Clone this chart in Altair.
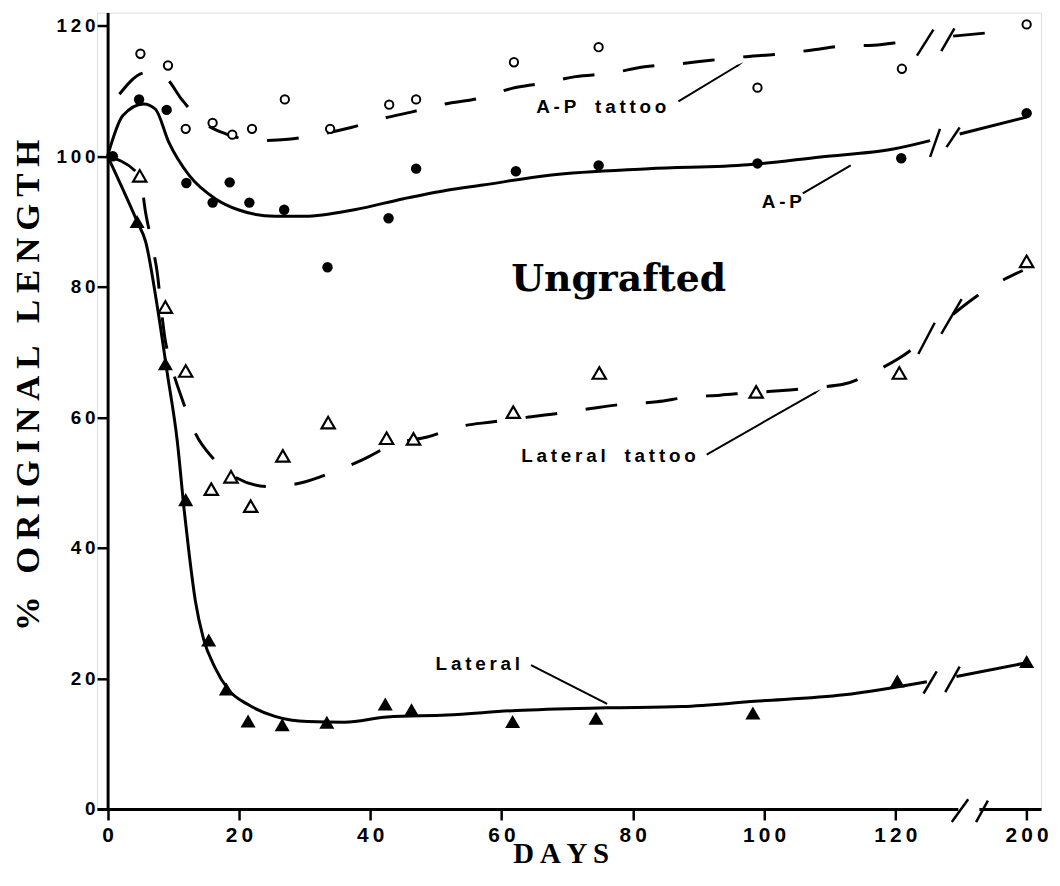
import altair as alt
import pandas as pd

# ---------------- data (days, % original length) ----------------
# markers
ap_days = [0.8, 4.8, 9.0, 12.0, 16.0, 18.6, 21.6, 26.9, 33.5, 42.8, 47.0, 62.2, 74.8, 99.0, 120.9, 200]
ap_vals = [100, 108.7, 107.1, 95.9, 92.9, 96.0, 92.9, 91.8, 83.0, 90.5, 98.1, 97.7, 98.6, 98.9, 99.7, 106.6]

apt_days = [5.0, 9.2, 11.9, 16.0, 19.0, 22.0, 27.0, 33.9, 42.9, 47.0, 61.9, 74.8, 99.0, 121.0, 200]
apt_vals = [115.7, 113.9, 104.2, 105.1, 103.3, 104.2, 108.7, 104.2, 107.9, 108.7, 114.4, 116.7, 110.5, 113.4, 120.2]

lat_days = [4.5, 8.8, 11.9, 15.4, 18.1, 21.4, 26.6, 33.4, 42.3, 46.3, 61.7, 74.4, 98.3, 120.3, 200]
lat_vals = [90.0, 68.2, 47.4, 25.9, 18.4, 13.5, 12.9, 13.3, 16.1, 15.2, 13.4, 13.9, 14.7, 19.6, 22.6]

latt_days = [4.9, 8.8, 11.9, 15.8, 18.8, 21.8, 26.7, 33.6, 42.5, 46.6, 61.8, 74.9, 98.8, 120.6, 200]
latt_vals = [97.0, 76.9, 67.1, 49.0, 50.9, 46.4, 54.1, 59.2, 56.8, 56.7, 60.8, 66.8, 63.9, 66.8, 83.9]

# hand-drawn curves, split at the axis break
ap_c1_days = [0, 0.5, 2.3, 5.5, 7.3, 9.3, 12.4, 16.4, 19.9, 25.5, 30, 37.6, 45.1, 51.7, 57.2, 67.3, 82.4, 97.6, 108.6, 119.7, 125.3]
ap_c1_vals = [100, 101.7, 106.2, 108.0, 107.2, 102.2, 97.1, 93.5, 91.8, 90.8, 90.8, 91.8, 93.5, 94.8, 95.6, 97.1, 98.1, 98.7, 99.9, 101.1, 102.4]
ap_c2_days = [189.8, 200]
ap_c2_vals = [103.4, 106.0]

apt_c1_days = [1.8, 5.8, 8.8, 11.3, 13.9, 18.1, 23.2, 27.5, 31.5, 37.1, 42.0, 46.4, 51.4, 56.7, 61.6, 66.3, 71.3, 76.4,
               81.8, 86.5, 91.9, 96.6, 101.6, 107.6, 112.2, 116.7, 121.0, 124.0]
apt_c1_vals = [109.5, 112.8, 112.0, 108.7, 105.7, 103.4, 102.4, 102.6, 103.2, 104.4, 105.8, 106.8, 108.0, 108.9, 110.4, 111.2,
               112.2, 112.7, 113.7, 114.1, 114.7, 115.2, 115.6, 116.3, 116.9, 117.0, 117.5, 117.9]
apt_c2_days = [188.8, 195.1]
apt_c2_vals = [118.4, 119.0]

lat_c1_days = [0, 4.5, 5.8, 7.6, 9.1, 10.6, 11.7, 12.4, 13.4, 14.6, 16.4, 18.4, 21.4, 25.5, 30.5, 36.1, 42.6, 51.7, 62.3,
               75.9, 87.5, 98.6, 112.2, 124.8]
lat_c1_vals = [100, 90.0, 86.9, 76.8, 66.7, 56.5, 45.5, 39.3, 31.7, 26.1, 21.6, 18.3, 16.0, 14.2, 13.4, 13.3, 14.1, 14.4, 15.1,
               15.5, 15.7, 16.5, 17.5, 19.5]
lat_c2_days = [189.3, 200]
lat_c2_vals = [20.3, 22.4]

latt_c1_days = [0, 4.9, 5.8, 6.8, 7.6, 8.1, 8.8, 9.3, 11.6, 13.4, 16.1, 18.4, 24.5, 29.2, 34.3, 38.8, 43.9, 48.7, 53.7, 58.5,
                63.8, 68.6, 73.9, 78.4, 83.7, 88.5, 93.3, 98.1, 102.8, 107.9, 112.2, 116.8, 120.5, 124.8]
latt_c1_vals = [100, 97.0, 91.3, 86.4, 81.9, 77.3, 71.7, 69.5, 62.1, 57.5, 53.7, 51.5, 49.4, 49.9, 51.6, 53.5, 56.0, 57.0, 58.6,
                59.3, 60.0, 60.6, 61.4, 62.0, 62.4, 63.1, 63.4, 63.8, 64.1, 64.6, 65.1, 67.0, 69.0, 72.2]
latt_c2_days = [188.8, 192.6, 195.1, 199.4]
latt_c2_vals = [75.8, 78.7, 80.3, 82.5]

x_ticks = [0, 20, 40, 60, 80, 100, 120, 200]
y_ticks = [0, 20, 40, 60, 80, 100, 120]

TS = "\u2009"   # thin space: letter spacing of the original lettering
WS = "\u2003"   # em space: word gap (plain spaces collapse in SVG)


def ax(d):
    """broken axis: days up to 130 drawn as-is, the 190-200 stretch drawn after the break"""
    return d if d <= 130 else d - 60


def spaced(s):
    return WS.join(TS.join(w) for w in s.split(" "))


# ---------------- tables ----------------
def pts(days, vals):
    return pd.DataFrame({"x": [ax(d) for d in days], "y": vals})


def curve(name, style, segs):
    rows = []
    for i, (ds, vs) in enumerate(segs):
        for d, v in zip(ds, vs):
            rows.append({"x": ax(d), "y": v, "key": f"{name}{i}", "style": style})
    return rows


line_rows = (curve("ap", "solid", [(ap_c1_days, ap_c1_vals), (ap_c2_days, ap_c2_vals)])
             + curve("lat", "solid", [(lat_c1_days, lat_c1_vals), (lat_c2_days, lat_c2_vals)])
             + curve("apt", "dash", [(apt_c1_days, apt_c1_vals), (apt_c2_days, apt_c2_vals)])
             + curve("latt", "dash", [(latt_c1_days, latt_c1_vals), (latt_c2_days, latt_c2_vals)]))
lines = pd.DataFrame(line_rows)

# "//" break marks on each curve and on the axis (days, value)
breaks = pd.DataFrame({
    "x":  [ax(183.3), ax(187.0), ax(185.3), ax(187.8), ax(183.5), ax(187.0), ax(184.3), ax(187.6), ax(188.6), ax(192.3)],
    "x2": [ax(185.8), ax(189.0), ax(186.8), ax(189.8), ax(186.0), ax(190.1), ax(186.3), ax(189.8), ax(191.1), ax(194.1)],
    "y":  [115.4, 116.1, 99.9, 101.4, 69.7, 72.8, 17.7, 17.9, -2.0, -2.0],
    "y2": [119.4, 119.6, 104.2, 104.4, 74.5, 78.1, 21.1, 21.8, 1.5, 1.3],
})
gap = pd.DataFrame({"x": [ax(189.6)], "x2": [ax(192.8)], "y": [-0.55], "y2": [0.55]})

# leader lines of the labels
leaders = pd.DataFrame({
    "x":  [86.96, 91.26, 105.9, 64.5],
    "y":  [108.4, 54.3, 94.3, 22.05],
    "x2": [96.0, 107.8, 113.2, 76.1],
    "y2": [113.9, 63.8, 98.6, 16.1],
})
heads = pd.DataFrame({"x": [96.2, 108.0], "y": [114.0, 63.9], "ang": [59, 60]})

labels_small = pd.DataFrame({
    "x": [75.2, 102.7, 76.3, 56.4],
    "y": [106.7, 92.0, 53.2, 21.3],
    "t": [spaced("A-P tattoo"), spaced("A-P"), spaced("Lateral tattoo"), spaced("Lateral")],
})
label_big = pd.DataFrame({"x": [77.85], "y": [79.3], "t": ["Ungrafted"]})
xtitle = pd.DataFrame({"x": [69.1], "y": [-8.2], "t": [spaced("DAYS")]})
ytitle = pd.DataFrame({"x": [-12.1], "y": [64.9], "t": [TS.join("% ORIGINAL LENGTH")]})

# ---------------- scales / axes ----------------
xs = alt.Scale(domain=[-1.6, 142.2], nice=False, zero=False)
ys = alt.Scale(domain=[0, 122], nice=False, zero=False)

x_label_expr = ("datum.value == 140 ? '" + spaced("200") + "' : join(split(datum.label, ''), '" + TS + "')")
y_label_expr = "join(split(datum.label, ''), '" + TS + "')"

xaxis = alt.Axis(values=[ax(v) for v in x_ticks], labelExpr=x_label_expr, title=None, grid=False,
                 domainColor="black", domainWidth=3, tickColor="black", tickWidth=2.5, tickSize=11,
                 labelFont="Liberation Sans", labelFontWeight="bold", labelFontSize=21, labelColor="black",
                 labelPadding=5, labelFlush=False, labelOverlap=False, labelBound=False)
yaxis = alt.Axis(values=y_ticks, labelExpr=y_label_expr, title=None, grid=False, offset=-10.6,
                 domainColor="black", domainWidth=3, tickColor="black", tickWidth=2.5, tickSize=10.6,
                 labelFont="Liberation Sans", labelFontWeight="bold", labelFontSize=19, labelColor="black",
                 labelPadding=2, labelFlush=False, labelOverlap=False, labelBound=False)

X = alt.X("x:Q", scale=xs, axis=xaxis)
Y = alt.Y("y:Q", scale=ys, axis=yaxis)

# ---------------- layers ----------------
solid = alt.Chart(lines[lines["style"] == "solid"]).mark_line(
    interpolate="monotone", color="black", strokeWidth=3).encode(x=X, y=Y, detail="key:N")
dashed = alt.Chart(lines[lines["style"] == "dash"]).mark_line(
    interpolate="monotone", color="black", strokeWidth=3, strokeDash=[32, 29]).encode(x=X, y=Y, detail="key:N")

gap_rect = alt.Chart(gap).mark_rect(color="white").encode(x=X, x2="x2:Q", y=Y, y2="y2:Q")
break_marks = alt.Chart(breaks).mark_rule(color="black", strokeWidth=2.5).encode(x=X, x2="x2:Q", y=Y, y2="y2:Q")

filled_c = alt.Chart(pts(ap_days, ap_vals)).mark_point(
    shape="circle", filled=True, color="black", size=110, opacity=1).encode(x=X, y=Y)
open_c = alt.Chart(pts(apt_days, apt_vals)).mark_point(
    shape="circle", filled=True, fill="white", stroke="black", strokeWidth=2, size=70, opacity=1).encode(x=X, y=Y)
filled_t = alt.Chart(pts(lat_days, lat_vals)).mark_point(
    shape="triangle-up", filled=True, color="black", size=230, opacity=1).encode(x=X, y=Y)
open_t = alt.Chart(pts(latt_days, latt_vals)).mark_point(
    shape="triangle-up", filled=True, fill="white", stroke="black", strokeWidth=2.2, size=180, opacity=1).encode(x=X, y=Y)

leader = alt.Chart(leaders).mark_rule(color="black", strokeWidth=2).encode(x=X, x2="x2:Q", y=Y, y2="y2:Q")
arrow = alt.Chart(heads).mark_point(shape="wedge", filled=True, color="black", size=80, opacity=1).encode(
    x=X, y=Y, angle=alt.Angle("ang:Q", scale=None))

txt_small = alt.Chart(labels_small).mark_text(
    font="Liberation Sans", fontWeight="bold", fontSize=19, color="black", align="center",
    baseline="alphabetic").encode(x=X, y=Y, text="t:N")
txt_big = alt.Chart(label_big).mark_text(
    font="DejaVu Serif", fontWeight="bold", fontSize=38, color="black", align="center",
    baseline="alphabetic").encode(x=X, y=Y, text="t:N")
txt_x = alt.Chart(xtitle).mark_text(
    font="Liberation Serif", fontWeight="bold", fontSize=29, color="black", align="center",
    baseline="alphabetic").encode(x=X, y=Y, text="t:N")
txt_y = alt.Chart(ytitle).mark_text(
    font="Liberation Serif", fontWeight="bold", fontSize=35, color="black", align="center",
    baseline="middle", angle=270).encode(x=X, y=Y, text="t:N")

chart = alt.layer(
    solid, dashed, gap_rect, break_marks, filled_c, open_c, filled_t, open_t,
    leader, arrow, txt_small, txt_big, txt_x, txt_y
).properties(
    width=950.8, height=802.15,
    padding={"left": 89.72, "top": 1.55, "right": 11, "bottom": 60.3},
    autosize=alt.AutoSizeParams(type="none"),
).configure_view(stroke=None).configure(background="white")

chart.save("out.html", embed_options={"renderer": "svg", "actions": False})
